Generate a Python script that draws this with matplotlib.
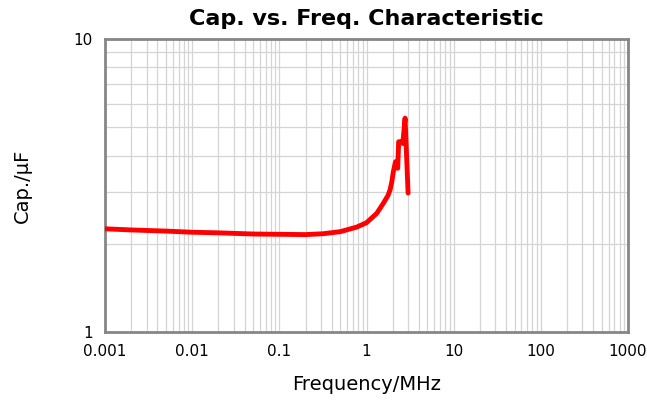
import numpy as np
import matplotlib
matplotlib.use("Agg")
from matplotlib import pyplot as plt
from matplotlib.ticker import LogLocator, FixedLocator, NullFormatter

# values (MHz, uF)
freq = [0.001, 0.002, 0.005, 0.01, 0.02, 0.05, 0.1, 0.2, 0.32, 0.5, 0.77,
        1.0, 1.31, 1.56, 1.76, 1.86, 1.95, 2.03, 2.15, 2.28, 2.34, 2.55,
        2.61, 2.77, 3.0]
cap = [2.25, 2.23, 2.21, 2.19, 2.18, 2.16, 2.155, 2.15, 2.165, 2.20, 2.28,
       2.36, 2.54, 2.75, 2.92, 3.05, 3.25, 3.52, 3.81, 3.62, 4.46, 4.46,
       4.40, 5.37, 2.98]

xticks = [0.001, 0.01, 0.1, 1, 10, 100, 1000]
xticklabels = ["0.001", "0.01", "0.1", "1", "10", "100", "1000"]
yticks = [1, 10]
yticklabels = ["1", "10"]

fig = plt.figure(figsize=(6.47, 4.0), dpi=100)
ax = fig.add_axes([105/647, 1-332/400, (628-105)/647, (332-39)/400])

ax.plot(freq, cap, color="#ff0000", lw=3.5, solid_joinstyle="round",
        solid_capstyle="round", zorder=3)

ax.set_xscale("log")
ax.set_yscale("log")
ax.set_xlim(0.001, 1000)
ax.set_ylim(1, 10)

ax.xaxis.set_major_locator(FixedLocator(xticks))
ax.set_xticklabels(xticklabels)
ax.yaxis.set_major_locator(FixedLocator(yticks))
ax.set_yticklabels(yticklabels)
ax.xaxis.set_minor_locator(LogLocator(base=10, subs=np.arange(2, 10)))
ax.yaxis.set_minor_locator(LogLocator(base=10, subs=np.arange(2, 10)))
ax.xaxis.set_minor_formatter(NullFormatter())
ax.yaxis.set_minor_formatter(NullFormatter())

ax.grid(which="both", color="#d4d4d4", lw=0.9)
ax.set_axisbelow(True)
ax.tick_params(which="both", length=0, labelsize=11, colors="#000000")
ax.tick_params(axis="x", pad=9)
ax.tick_params(axis="y", pad=9)

for s in ax.spines.values():
    s.set_color("#868686")
    s.set_linewidth(2)

ax.set_title("Cap. vs. Freq. Characteristic", fontsize=16, fontweight="bold", pad=10)
ax.set_xlabel("Frequency/MHz", fontsize=14, labelpad=11)
ax.set_ylabel("Cap./\u03bcF", fontsize=14, labelpad=30)

plt.savefig("out.png", dpi=100)
